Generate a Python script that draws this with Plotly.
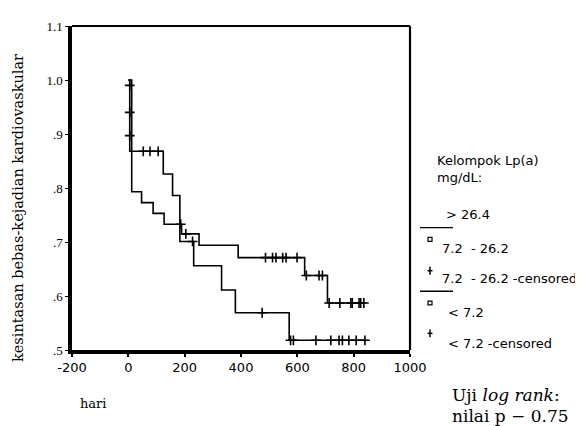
import plotly.graph_objects as go

# ---- data ----
# group starting high, ending low
grpA_event_t = [0, 5, 124, 157, 183, 232, 331, 380, 571]
grpA_surv = [1.0, 0.868, 0.826, 0.786, 0.701, 0.656, 0.611, 0.569, 0.518]
grpA_last_t = 842
grpA_cens_t = [5, 5, 5, 53, 77, 106, 228, 475, 576, 586, 666, 719, 748, 760, 783, 809, 840]
grpA_cens_s = [0.99, 0.94, 0.897, 0.868, 0.868, 0.868, 0.701, 0.569, 0.518, 0.518, 0.518,
               0.518, 0.518, 0.518, 0.518, 0.518, 0.518]

# group starting lower, ending high
grpB_event_t = [0, 12, 47, 88, 127, 189, 251, 390, 626, 707]
grpB_surv = [1.0, 0.793, 0.773, 0.753, 0.733, 0.715, 0.694, 0.671, 0.638, 0.587]
grpB_last_t = 840
grpB_cens_t = [186, 204, 487, 512, 524, 548, 560, 599, 632, 677, 689, 713, 751, 790, 795,
               819, 825, 836]
grpB_cens_s = [0.733, 0.715, 0.671, 0.671, 0.671, 0.671, 0.671, 0.671, 0.638, 0.638, 0.638,
               0.587, 0.587, 0.587, 0.587, 0.587, 0.587, 0.587]

x_ticks = [-200, 0, 200, 400, 600, 800, 1000]
y_ticks = [0.5, 0.6, 0.7, 0.8, 0.9, 1.0, 1.1]
y_tick_text = [".5", ".6", ".7", ".8", ".9", "1.0", "1.1"]

legend_title = ["Kelompok Lp(a)", "mg/dL:"]
legend_labels = ["> 26.4", "7.2  - 26.2", "7.2  - 26.2 -censored", "< 7.2", "< 7.2 -censored"]

fig = go.Figure()

for ev_t, surv, last_t in [(grpA_event_t, grpA_surv, grpA_last_t),
                           (grpB_event_t, grpB_surv, grpB_last_t)]:
    fig.add_trace(go.Scatter(
        x=ev_t + [last_t], y=surv + [surv[-1]], mode="lines",
        line=dict(color="black", width=1.6, shape="hv"), showlegend=False,
        hoverinfo="skip"))

for ct, cs in [(grpA_cens_t, grpA_cens_s), (grpB_cens_t, grpB_cens_s)]:
    fig.add_trace(go.Scatter(
        x=ct, y=cs, mode="markers",
        marker=dict(symbol="cross-thin", size=7, line=dict(color="black", width=1.6)),
        showlegend=False, hoverinfo="skip"))

# page has an 8px body margin: figure is placed at (8, 8)
fig.update_layout(
    width=575, height=418,
    margin=dict(l=64, r=173, t=11, b=76),
    plot_bgcolor="white", paper_bgcolor="white",
    showlegend=False,
)
fig.update_xaxes(
    range=[-200, 1000], tickvals=x_ticks, ticktext=[str(v) for v in x_ticks],
    showgrid=False, zeroline=False, showline=True, linecolor="black", linewidth=3.5,
    ticks="outside", ticklen=3, tickwidth=2, tickcolor="black",
    tickfont=dict(family="DejaVu Sans", size=13, color="black"),
)
fig.update_yaxes(
    range=[0.5, 1.1], tickvals=y_ticks, ticktext=y_tick_text,
    showgrid=False, zeroline=False, showline=True, linecolor="black", linewidth=3.5,
    ticks="outside", ticklen=3, tickwidth=1, tickcolor="black",
    tickfont=dict(family="Liberation Serif", size=13, color="black"),
)

# frame (top and right lines)
fig.add_shape(type="line", xref="paper", yref="paper", x0=0, x1=1, y0=1, y1=1,
              line=dict(color="black", width=2.2))
fig.add_shape(type="line", xref="paper", yref="paper", x0=1, x1=1, y0=0, y1=1,
              line=dict(color="black", width=2.2))

# helpers: page pixel -> paper fraction (plot area spans page x 72..410, y 19..350)
W, H = 338.0, 331.0
def px(x):
    return (x - 72) / W
def py(y):
    return (350 - y) / H

ann = []
ann.append(dict(text="kesintasan bebas-kejadian kardiovaskular", x=px(18), y=py(205),
                xref="paper", yref="paper", textangle=-90, showarrow=False,
                font=dict(family="DejaVu Serif", size=14.5, color="black"),
                xanchor="center", yanchor="middle"))
ann.append(dict(text="hari", x=px(78), y=py(405), xref="paper", yref="paper",
                showarrow=False, xanchor="left", yanchor="middle",
                font=dict(family="DejaVu Serif", size=13, color="black")))

sans = dict(family="DejaVu Sans", size=13, color="black")
ann.append(dict(text=legend_title[0], x=px(435), y=py(156), xref="paper", yref="paper",
                showarrow=False, xanchor="left", yanchor="middle", font=sans))
ann.append(dict(text=legend_title[1], x=px(435), y=py(174), xref="paper", yref="paper",
                showarrow=False, xanchor="left", yanchor="middle", font=sans))
legend_pos = [(444, 212), (440, 246), (440, 277), (446, 312), (446, 343)]
for lab, (lx, ly) in zip(legend_labels, legend_pos):
    ann.append(dict(text=lab.replace("<", "&lt;").replace(">", "&gt;"), x=px(lx), y=py(ly),
                    xref="paper", yref="paper", showarrow=False, xanchor="left",
                    yanchor="middle", font=sans))

serif = dict(family="DejaVu Serif", size=17, color="black")
ann.append(dict(text="Uji <i>log rank</i>:", x=px(450), y=py(396), xref="paper", yref="paper",
                showarrow=False, xanchor="left", yanchor="middle", font=serif))
ann.append(dict(text="nilai p \u2212 0.75", x=px(450), y=py(417), xref="paper", yref="paper",
                showarrow=False, xanchor="left", yanchor="middle", font=serif))
fig.update_layout(annotations=ann)

# legend symbols
for ly in [225, 290]:
    fig.add_shape(type="line", xref="paper", yref="paper", x0=px(420), x1=px(453),
                  y0=py(ly), y1=py(ly), line=dict(color="black", width=1.3))
for sy in [237, 302]:
    fig.add_shape(type="rect", xref="paper", yref="paper", x0=px(428), x1=px(432),
                  y0=py(sy + 2), y1=py(sy - 2), line=dict(color="black", width=1.2))
for cy in [269, 333]:
    fig.add_shape(type="line", xref="paper", yref="paper", x0=px(430), x1=px(430),
                  y0=py(cy + 4), y1=py(cy - 4), line=dict(color="black", width=1.5))
    fig.add_shape(type="line", xref="paper", yref="paper", x0=px(427.5), x1=px(432.5),
                  y0=py(cy), y1=py(cy), line=dict(color="black", width=1.5))

fig.write_html("out.html")
